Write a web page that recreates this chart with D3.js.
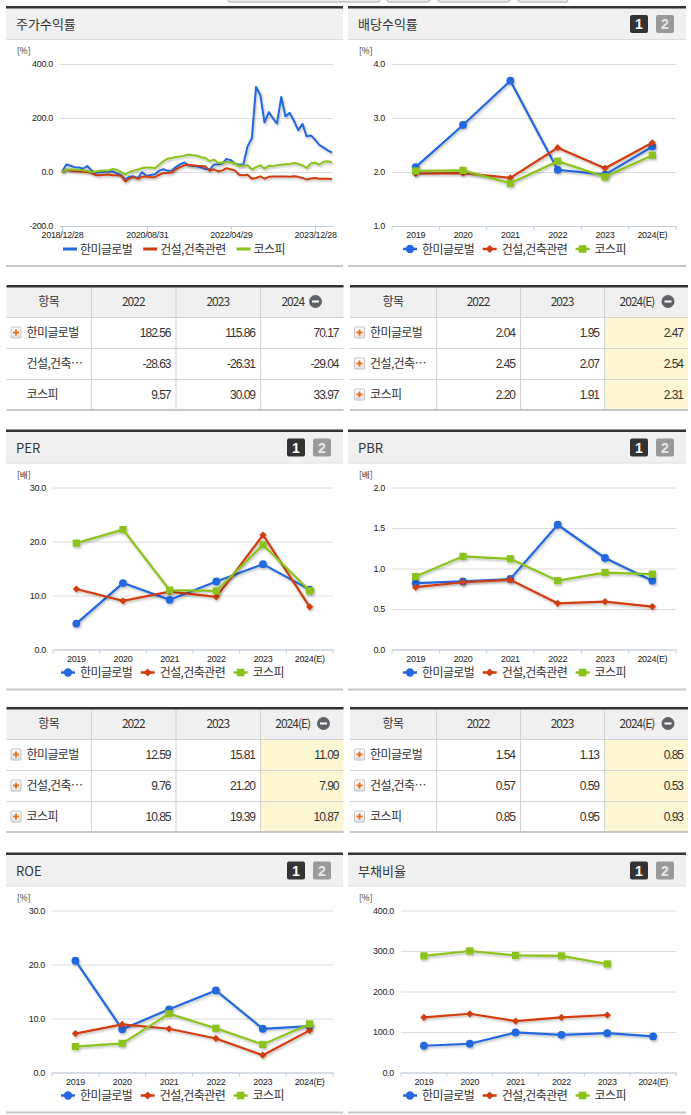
<!DOCTYPE html>
<html>
<head>
<meta charset="utf-8">
<script src="https://cdn.jsdelivr.net/npm/d3@7"></script>
<style>
body{margin:0;background:#fff;}
svg{display:block;font-family:"Noto Sans CJK KR","Noto Sans",sans-serif;}
</style>
</head>
<body>
<svg id="c" width="691" height="1115"></svg>
<script>
var years = ["2019","2020","2021","2022","2023","2024(E)"];
var names = ["한미글로벌","건설,건축관련","코스피"];
var colors = ["#2467de","#d23c0f","#8bc31c"];

// 주가수익률 (monthly points)
var stockDates = ["2018/12/28",
 "2019/01/28","2019/02/28","2019/03/28","2019/04/28","2019/05/28","2019/06/28","2019/07/28","2019/08/28","2019/09/28","2019/10/28","2019/11/28","2019/12/28",
 "2020/01/28","2020/02/28","2020/03/28","2020/04/28","2020/05/28","2020/06/28","2020/07/28","2020/08/28","2020/09/28","2020/10/28","2020/11/28","2020/12/28",
 "2021/01/28","2021/02/28","2021/03/28","2021/04/28","2021/05/28","2021/06/28","2021/07/28","2021/08/28","2021/09/28","2021/10/28","2021/11/28","2021/12/28",
 "2022/01/28","2022/02/28","2022/03/28","2022/04/28","2022/05/28","2022/06/28","2022/07/28","2022/08/28","2022/09/28","2022/10/28","2022/11/28","2022/12/28",
 "2023/01/28","2023/02/28","2023/03/28","2023/04/28","2023/05/28","2023/06/28","2023/07/28","2023/08/28","2023/09/28","2023/10/28","2023/11/28","2023/12/28",
 "2024/01/28","2024/02/28","2024/03/28","2024/04/28"];
var stockHanmi = [0,
 28,23,18,17,12,22,6,-3,-1,1,2,2,
 -5,-12,-28,-18,-16,-22,-1,-14,-11,-8,5,10,
 5,6,18,28,36,25,22,21,17,11,9,27,
 29,32,48,44,32,27,27,95,126,315,285,184,
 222,198,180,278,206,219,190,155,178,132,135,120,
 100,90,80,72];
var stockBuild = [0,
 8,5,3,2,1,0,-3,-12,-12,-10,-9,-12,
 -12,-14,-35,-24,-19,-25,-18,-17,-19,-19,-10,-4,
 -4,-2,10,18,25,27,25,23,22,20,5,10,
 2,6,14,10,6,-10,-12,-10,-25,-22,-16,-25,
 -18,-17,-17,-17,-17,-18,-16,-18,-22,-28,-24,-22,
 -25,-25,-25,-26];
var stockKospi = [0,
 10,9,8,9,6,5,0,2,5,6,6,11,
 8,0,-10,0,5,9,15,17,17,14,27,40,
 49,52,56,57,60,65,62,60,55,52,40,46,
 33,35,37,35,33,21,24,25,9,18,25,12,
 23,22,25,27,29,30,33,30,25,15,32,35,
 27,38,40,36];
var stockTicks = ["2018/12/28","2020/08/31","2022/04/29","2023/12/28"];
var stockY = [-200,0,200,400];

var divHanmi = [2.09,2.87,3.69,2.04,1.95,2.47];
var divBuild = [1.97,1.98,1.89,2.45,2.07,2.54];
var divKospi = [2.02,2.03,1.79,2.20,1.91,2.31];
var divY = [1,2,3,4];

var perHanmi = [4.8,12.3,9.2,12.59,15.81,11.09];
var perBuild = [11.2,9.0,10.7,9.76,21.20,7.90];
var perKospi = [19.7,22.2,11.0,10.85,19.39,10.87];
var perY = [0,10,20,30];

var pbrHanmi = [0.82,0.84,0.87,1.54,1.13,0.85];
var pbrBuild = [0.77,0.83,0.86,0.57,0.59,0.53];
var pbrKospi = [0.90,1.15,1.12,0.85,0.95,0.93];
var pbrY = [0,0.5,1,1.5,2];

var roeHanmi = [20.7,8.0,11.7,15.2,8.1,8.6];
var roeBuild = [7.2,8.9,8.1,6.3,3.2,7.8];
var roeKospi = [4.8,5.4,10.9,8.2,5.2,9.0];
var roeY = [0,10,20,30];

var debtHanmi = [66,71,99,93,97,89];
var debtBuild = [136,145,127,136,142,null];
var debtKospi = [288,300,289,288,268,null];
var debtY = [0,100,200,300,400];

// tables
var tblHead = ["항목","2022","2023","2024"];
var tblHeadE = ["항목","2022","2023","2024(E)"];
var tblNames = ["한미글로벌","건설,건축…","코스피"];
var tStock = [[182.56,115.86,70.17],[-28.63,-26.31,-29.04],[9.57,30.09,33.97]];
var tDiv = [[2.04,1.95,2.47],[2.45,2.07,2.54],[2.20,1.91,2.31]];
var tPer = [[12.59,15.81,11.09],[9.76,21.20,7.90],[10.85,19.39,10.87]];
var tPbr = [[1.54,1.13,0.85],[0.57,0.59,0.53],[0.85,0.95,0.93]];

var svg = d3.select("#c");
var defs = svg.append("defs");
defs.append("filter").attr("id","sh").attr("x","-5%").attr("y","-10%").attr("width","110%").attr("height","130%")
  .append("feDropShadow").attr("dx",1).attr("dy",1.5).attr("stdDeviation",1)
  .attr("flood-color","#000").attr("flood-opacity",0.28);
var gr = defs.append("linearGradient").attr("id","pl").attr("x1",0).attr("y1",0).attr("x2",0).attr("y2",1);
gr.append("stop").attr("offset","0").attr("stop-color","#fff");
gr.append("stop").attr("offset","1").attr("stop-color","#e2e2e2");

var LP = [6,343], RP = [348,686];
var numFmt = d3.formatLocale({decimal:".", thousands:",", grouping:[3], currency:["",""], minus:"-"}).format(".2f");

// leftovers of the tab bar at the very top
[[228,380],[387,430],[438,510],[518,568]].forEach(function(b){
  svg.append("rect").attr("x",b[0]).attr("y",-8).attr("width",b[1]-b[0]).attr("height",10).attr("rx",2)
    .attr("fill","#eee").attr("stroke","#aaa");
});

function panel(px, T, title, btns){
  var w = px[1]-px[0];
  svg.append("rect").attr("x",px[0]).attr("y",T).attr("width",w).attr("height",32).attr("fill","#f0f0f0");
  svg.append("rect").attr("x",px[0]).attr("y",T-1).attr("width",w).attr("height",2.5).attr("fill","#333");
  svg.append("rect").attr("x",px[0]).attr("y",T+32).attr("width",w).attr("height",1).attr("fill","#dcdcdc");
  svg.append("rect").attr("x",px[0]).attr("y",T+258).attr("width",w).attr("height",2).attr("fill","#c8c8c8");
  svg.append("text").attr("x",px[0]+10).attr("y",T+22).text(title)
    .attr("font-size",13).attr("fill","#333");
  if(btns){
    [["1","#333","#fff",56],["2","#9a9a9a","#e8e8e8",30]].forEach(function(b){
      var bx = px[1]-b[3];
      svg.append("rect").attr("x",bx).attr("y",T+8).attr("width",18).attr("height",18).attr("rx",2).attr("fill",b[1]);
      svg.append("text").attr("x",bx+9).attr("y",T+22).attr("text-anchor","middle").text(b[0])
        .attr("font-family","'Liberation Sans',Arial,sans-serif").attr("font-weight","bold")
        .attr("font-size",14).attr("fill",b[2]);
    });
  }
}

function styleYAxis(g){
  g.select(".domain").remove();
  g.selectAll(".tick line").attr("stroke","#dcdcdc");
  g.selectAll(".tick text").attr("font-size",9).attr("fill","#222")
    .attr("font-family","'Liberation Sans',Arial,sans-serif").attr("letter-spacing","-0.3");
}

// circle, square-diamond (rotated square), square
var symbols = [d3.symbolCircle, d3.symbolSquare, d3.symbolSquare];
var symRot = [0, 45, 0];
var symSize = [48, 26, 52];

function marker(sel, i, cx, cy, extra){
  return sel.append("path").attr("d",d3.symbol().type(symbols[i]).size(symSize[i]+(extra||0))())
    .attr("transform","translate("+cx+","+cy+") rotate("+symRot[i]+")").attr("fill",colors[i]);
}

function legend(px, T, markers){
  var cx = px[0] + (markers ? 62 : 64);
  var y = T + 242;
  names.forEach(function(n,i){
    svg.append("line").attr("x1",cx-7).attr("x2",cx+7).attr("y1",y).attr("y2",y)
      .attr("stroke",colors[i]).attr("stroke-width",markers?2.5:3);
    if(markers) marker(svg, i, cx, y, 6);
    var t = svg.append("text").attr("x",cx+(markers?12:10)).attr("y",y+4.5).text(n)
      .attr("font-size",12).attr("fill","#333").attr("letter-spacing","-0.6");
    cx = cx + (markers?12:10) + t.node().getComputedTextLength() + (markers?15.5:18);
  });
}

function unitLabel(px, T, u){
  svg.append("text").attr("x",px[0]+11).attr("y",T+47).text(u)
    .attr("font-size",8.5).attr("fill","#333");
}

function catChart(p){
  var T = p.T;
  var y = d3.scaleLinear().domain([p.ticks[0], p.ticks[p.ticks.length-1]]).range([T+219, T+57]);
  var x = d3.scaleBand().domain(years).range([p.l, p.r]);
  unitLabel(p.px, T, p.unit);
  var gy = svg.append("g").attr("transform","translate("+p.l+",0)")
    .call(d3.axisLeft(y).tickValues(p.ticks).tickFormat(d3.format(".1f")).tickSize(-(p.r-p.l)).tickPadding(7));
  styleYAxis(gy);
  var gx = svg.append("g").attr("transform","translate(0,"+(T+219)+")")
    .call(d3.axisBottom(x).tickSize(0).tickPadding(6));
  gx.select(".domain").attr("stroke","#c3cedc");
  gx.selectAll(".tick text").attr("font-size",9).attr("fill","#222")
    .attr("font-family","'Liberation Sans',Arial,sans-serif").attr("letter-spacing","-0.3");
  gx.selectAll("line.bd").data(years.concat(["end"])).join("line").attr("class","bd")
    .attr("x1",function(d){return d==="end"?p.r:x(d);}).attr("x2",function(d){return d==="end"?p.r:x(d);})
    .attr("y1",0).attr("y2",4).attr("stroke","#c3cedc");
  var line = d3.line().defined(function(d){return d!=null;})
    .x(function(d,i){return x(years[i])+x.bandwidth()/2;}).y(function(d){return y(d);});
  p.data.forEach(function(s,i){
    var g = svg.append("g").attr("filter","url(#sh)");
    g.append("path").attr("d",line(s)).attr("fill","none").attr("stroke",colors[i]).attr("stroke-width",2.2);
    s.forEach(function(v,k){
      if(v!=null) marker(g, i, x(years[k])+x.bandwidth()/2, y(v), 0);
    });
  });
  legend(p.px, T, true);
}

function stockChart(px, T){
  var parse = d3.timeParse("%Y/%m/%d");
  var x = d3.scaleTime().domain([parse(stockDates[0]), parse(stockDates[stockDates.length-1])]).range([62, 332]);
  var y = d3.scaleLinear().domain([-200,400]).range([T+219, T+57]);
  unitLabel(px, T, "[%]");
  var gy = svg.append("g").attr("transform","translate(60,0)")
    .call(d3.axisLeft(y).tickValues(stockY).tickFormat(d3.format(".1f")).tickSize(-273).tickPadding(7));
  styleYAxis(gy);
  gy.selectAll(".tick text").text(function(d){return numFmt(d).replace(/(\.\d)\d$/,"$1");});
  gy.selectAll(".tick").filter(function(d){return d===-200;}).select("line").attr("stroke","#c3cedc");
  var gx = svg.append("g").attr("transform","translate(0,"+(T+219)+")")
    .call(d3.axisBottom(x).tickValues(stockTicks.map(parse)).tickFormat(d3.timeFormat("%Y/%m/%d")).tickSize(4).tickPadding(2));
  gx.select(".domain").remove();
  gx.selectAll(".tick line").attr("stroke","#c3cedc");
  gx.selectAll(".tick text").attr("font-size",9).attr("fill","#222")
    .attr("font-family","'Liberation Sans',Arial,sans-serif").attr("letter-spacing","-0.3");
  var line = d3.line().x(function(d,i){return x(parse(stockDates[i]));}).y(function(d){return y(d);});
  [stockHanmi, stockBuild, stockKospi].forEach(function(s,i){
    svg.append("path").attr("d",line(s)).attr("fill","none").attr("stroke",colors[i])
      .attr("stroke-width",2).attr("stroke-linejoin","round").attr("filter","url(#sh)");
  });
  legend(px, T, false);
}

function table(cols, top, head, rows, plusRows, hl){
  var W = cols[cols.length-1]-cols[0];
  svg.append("rect").attr("x",cols[0]).attr("y",top).attr("width",W).attr("height",31).attr("fill","#f0f0f0");
  if(hl){
    svg.append("rect").attr("x",cols[3]).attr("y",top+31).attr("width",cols[4]-cols[3]).attr("height",93).attr("fill","#fcf7d2");
  }
  [1,2,3].forEach(function(r){
    svg.append("rect").attr("x",cols[0]).attr("y",top+31*r).attr("width",W).attr("height",1).attr("fill","#d2d2d2");
  });
  cols.slice(1,4).forEach(function(c){
    svg.append("rect").attr("x",c).attr("y",top).attr("width",1).attr("height",124).attr("fill","#d2d2d2");
  });
  svg.append("rect").attr("x",cols[0]).attr("y",top-1).attr("width",W).attr("height",2.5).attr("fill","#333");
  svg.append("rect").attr("x",cols[0]).attr("y",top+123).attr("width",W).attr("height",2).attr("fill","#c8c8c8");
  head.forEach(function(h,i){
    var cx = (cols[i]+cols[i+1])/2 - (i===3 ? 9 : 0);
    svg.append("text").attr("x",cx).attr("y",top+20).attr("text-anchor","middle").text(h)
      .attr("font-size",12).attr("fill","#333").attr("letter-spacing", i===0 ? "-0.5" : "-1");
    if(i===3){
      var ix = cols[4]-(h.length>4?20:28);
      svg.append("circle").attr("cx",ix).attr("cy",top+15.5).attr("r",6.5).attr("fill","#5f6368");
      svg.append("rect").attr("x",ix-3.5).attr("y",top+14.5).attr("width",7).attr("height",2).attr("fill","#fff");
    }
  });
  rows.forEach(function(r,k){
    var yc = top + 31*(k+1) + 15.5;
    if(plusRows[k]){
      svg.append("rect").attr("x",cols[0]+4.5).attr("y",yc-5.5).attr("width",10).attr("height",11).attr("rx",1)
        .attr("fill","url(#pl)").attr("stroke","#b5b5b5").attr("stroke-width",0.8);
      svg.append("rect").attr("x",cols[0]+6.5).attr("y",yc-0.9).attr("width",6).attr("height",1.8).attr("fill","#f26b0f");
      svg.append("rect").attr("x",cols[0]+8.6).attr("y",yc-3).attr("width",1.8).attr("height",6).attr("fill","#f26b0f");
    }
    svg.append("text").attr("x",cols[0]+20).attr("y",yc+4.5).text(tblNames[k])
      .attr("font-size",12).attr("fill","#333").attr("letter-spacing","-0.6");
    r.forEach(function(v,j){
      svg.append("text").attr("x",cols[j+2]-5).attr("y",yc+4.5).attr("text-anchor","end").text(numFmt(v))
        .attr("font-size",12).attr("fill","#333").attr("letter-spacing","-1")
        .attr("font-family","'Liberation Sans',Arial,sans-serif");
    });
  });
}

var TL = [6.5,91,175.5,260,343.5], TR = [350,436,520,604,688];

// row 1
panel(LP, 7, "주가수익률", false);
stockChart(LP, 7);
panel(RP, 7, "배당수익률", true);
catChart({px:RP, T:7, l:392, r:676, ticks:divY, unit:"[%]", data:[divHanmi,divBuild,divKospi]});
table(TL, 286, tblHead, tStock, [true,false,false], false);
table(TR, 286, tblHeadE, tDiv, [true,true,true], true);

// row 2
panel(LP, 430.5, "PER", true);
catChart({px:LP, T:430.5, l:53, r:333, ticks:perY, unit:"[배]", data:[perHanmi,perBuild,perKospi]});
panel(RP, 430.5, "PBR", true);
catChart({px:RP, T:430.5, l:392, r:676, ticks:pbrY, unit:"[배]", data:[pbrHanmi,pbrBuild,pbrKospi]});
table(TL, 708, tblHeadE, tPer, [true,true,true], true);
table(TR, 708, tblHeadE, tPbr, [true,true,true], true);

// row 3
panel(LP, 853.5, "ROE", true);
catChart({px:LP, T:853.5, l:52, r:333, ticks:roeY, unit:"[%]", data:[roeHanmi,roeBuild,roeKospi]});
panel(RP, 853.5, "부채비율", true);
catChart({px:RP, T:853.5, l:401, r:676, ticks:debtY, unit:"[%]", data:[debtHanmi,debtBuild,debtKospi]});
</script>
</body>
</html>
